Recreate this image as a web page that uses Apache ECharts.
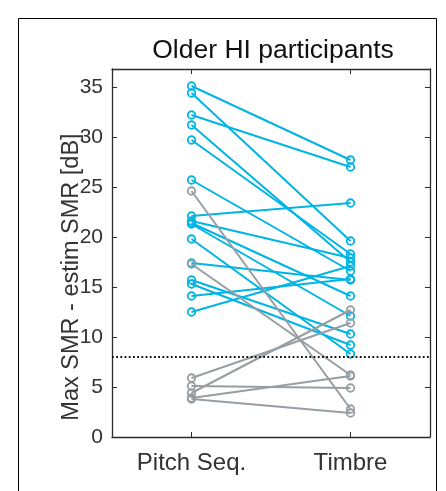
<!DOCTYPE html>
<html>
<head>
<meta charset="utf-8">
<script src="https://cdn.jsdelivr.net/npm/echarts@6/dist/echarts.min.js"></script>
<style>
  html, body { margin: 0; padding: 0; background: #fff; }
  #chart { width: 446px; height: 491px; }
</style>
</head>
<body>
<div id="chart"></div>
<script>
// Conditions on the x axis
const conditions = ['Pitch Seq.', 'Timbre'];

// Participants above the criterion (blue): value per condition
const pitchBlue  = [35.1, 34.4, 32.2, 31.2, 29.7, 25.7, 22.1, 21.6, 21.4, 21.3, 19.8, 17.4, 15.7, 15.3, 14.1, 12.5];
const timbreBlue = [27.7, 19.6, 27.0, 17.5, 18.3, 16.6, 23.4, 17.9, 14.1, 12.1,  8.3, 15.7, 10.3,  9.2, 15.8, 17.1];

// Participants below the criterion (grey)
const pitchGrey  = [24.6, 17.3,  5.9, 5.1,  4.4, 3.9, 3.8];
const timbreGrey = [ 2.8,  6.2, 11.4, 4.9, 12.7, 6.1, 2.4];

// Criterion line and y ticks
const criterion = 8;
const yTicks = [0, 5, 10, 15, 20, 25, 30, 35];

const BLUE = '#00b4e4';
const GREY = '#979ea3';
const AXIS = '#2b2b2b';
const FONT = 'Liberation Sans, Arial, Helvetica, sans-serif';

function pairSeries(pitch, timbre, color, name, z) {
  return pitch.map((p, i) => ({
    name: name + ' ' + (i + 1),
    type: 'line',
    data: [p, timbre[i]],
    symbol: 'circle',
    symbolSize: 7.5,
    showSymbol: true,
    lineStyle: { color: color, width: 2 },
    itemStyle: { color: 'rgba(0,0,0,0)', borderColor: color, borderWidth: 1.8 },
    emphasis: { disabled: true },
    z: z
  }));
}

const series = [
  ...pairSeries(pitchBlue, timbreBlue, BLUE, 'above', 3),
  ...pairSeries(pitchGrey, timbreGrey, GREY, 'below', 4)
];
// criterion line across the whole axes
series[0].markLine = {
  silent: true,
  symbol: 'none',
  label: { show: false },
  lineStyle: { color: '#111', width: 1.8, type: [1.8, 2.4] },
  data: [{ yAxis: criterion }]
};

const frameAxis = {
  axisLine: { show: true, onZero: false, lineStyle: { color: AXIS, width: 1.3 } },
  axisTick: { show: true, inside: true, length: 5, lineStyle: { color: AXIS } },
  splitLine: { show: false }
};

const chart = echarts.init(document.getElementById('chart'), null, { renderer: 'canvas' });
chart.setOption({
  animation: false,
  backgroundColor: '#fff',
  title: {
    text: 'Older HI participants',
    left: 268, top: 32, textAlign: 'center',
    textStyle: { fontFamily: FONT, fontSize: 26.5, fontWeight: 'normal', color: '#111' }
  },
  grid: { left: 112, right: 16, top: 69, bottom: 54 },
  xAxis: [
    Object.assign({}, frameAxis, {
      type: 'category', data: conditions, boundaryGap: true, position: 'bottom',
      axisTick: Object.assign({}, frameAxis.axisTick, { alignWithLabel: true }),
      axisLabel: { fontFamily: FONT, fontSize: 24, color: '#333', margin: 14 }
    }),
    Object.assign({}, frameAxis, {
      type: 'category', data: conditions, boundaryGap: true, position: 'top',
      axisTick: Object.assign({}, frameAxis.axisTick, { alignWithLabel: true }),
      axisLabel: { show: false }
    })
  ],
  yAxis: [
    Object.assign({}, frameAxis, {
      type: 'value', min: 0, max: 36.8, interval: 5, position: 'left',
      axisLabel: {
        fontFamily: FONT, fontSize: 21, color: '#333', margin: 9,
        formatter: v => (yTicks.includes(v) ? String(v) : '')
      }
    }),
    Object.assign({}, frameAxis, {
      type: 'value', min: 0, max: 36.8, interval: 5, position: 'right',
      axisLabel: { show: false }
    })
  ],
  graphic: [
    {
      type: 'rect', silent: true,
      shape: { x: 18.5, y: 18.5, width: 418, height: 500 },
      style: { fill: 'none', stroke: '#000', lineWidth: 1 }
    },
    {
      type: 'text', silent: true,
      x: 72, y: 277, rotation: Math.PI / 2,
      style: {
        text: 'Max SMR - estim SMR [dB]',
        fontFamily: FONT, fontSize: 23.5, fill: '#333',
        align: 'center', verticalAlign: 'middle'
      }
    }
  ],
  series: series
});
</script>
</body>
</html>
